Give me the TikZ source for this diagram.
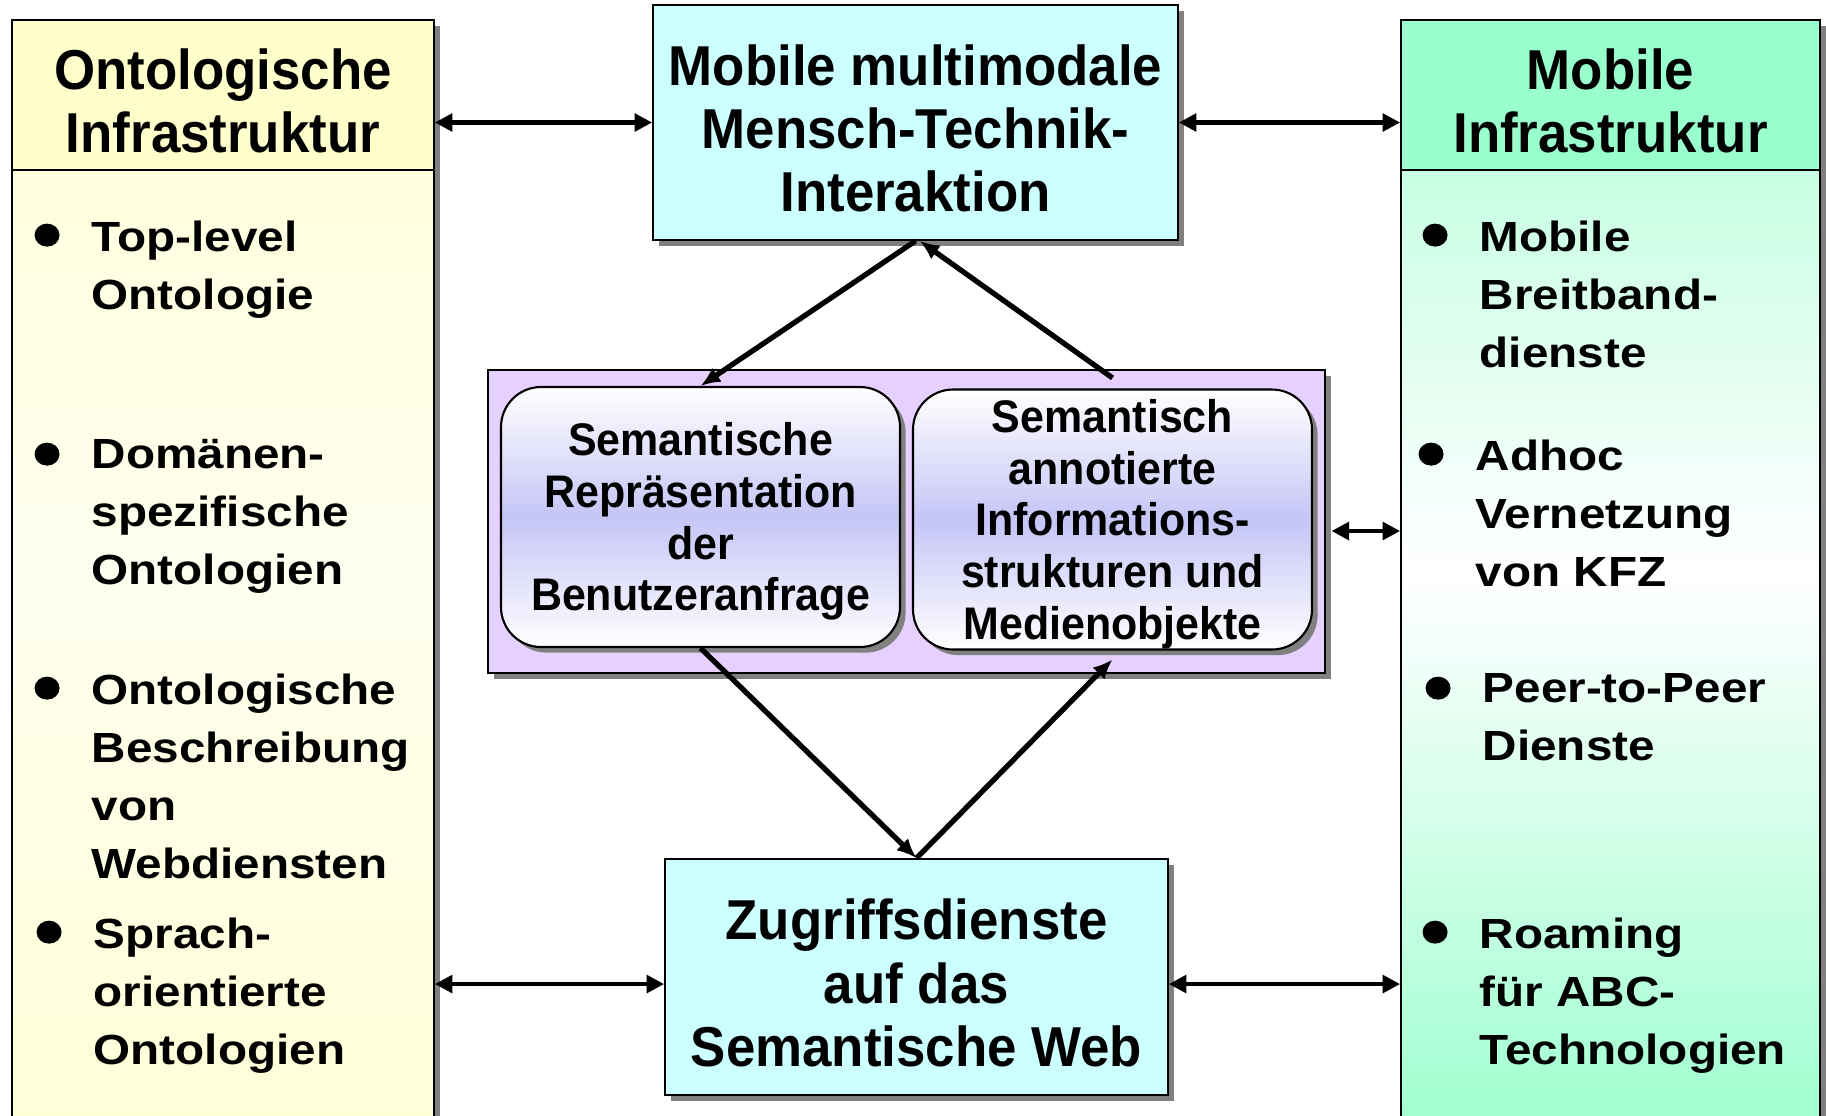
\documentclass[tikz,border=0pt]{standalone}
\usepackage{fontspec}
\setmainfont{Liberation Sans}
\newfontfamily\headfont{Liberation Sans}[FakeStretch=0.94]
\newfontfamily\listfont{Liberation Sans}[FakeStretch=1.13]
\usetikzlibrary{arrows.meta,shadows}

\definecolor{boxcyan}{HTML}{CCFFFF}
\definecolor{ontohead}{HTML}{FFFFCC}
\definecolor{ontobody}{HTML}{FFFFD8}
\definecolor{mobhead}{HTML}{99FFCC}
\definecolor{mobtop}{HTML}{B3FFD9}
\definecolor{mobbottom}{HTML}{A0FFD0}
\definecolor{semlila}{HTML}{E6D0FF}
\definecolor{semblue}{HTML}{C5C5F7}

% taller first line pushes the text block a bit down
\newcommand{\headstrut}{\rule{0pt}{15pt}}
\newcommand{\semstrut}{\rule{0pt}{12pt}}

\begin{document}
\begin{tikzpicture}[x=0.1mm, y=-0.1mm,
    shadowed/.style={drop shadow={opacity=1, fill=gray, shadow xshift=1.6pt, shadow yshift=-1.6pt}},
    headbox/.style={rectangle, draw, line width=0.5pt, align=center, inner sep=0pt, font=\headfont\bfseries\fontsize{16}{18}\selectfont},
    panel/.style={rectangle, draw, line width=0.5pt, inner sep=0pt, shadowed},
    semround/.style={rectangle, draw, line width=0.6pt, rounded corners=4mm, align=center, inner sep=0pt,
        minimum width=39.9mm, minimum height=26mm, shadowed, top color=white, bottom color=white, middle color=semblue,
        font=\headfont\bfseries\fontsize{13}{14.7}\selectfont},
    listitem/.style={anchor=north west, align=left, inner sep=0pt, font=\listfont\bfseries\fontsize{12}{16.5}\selectfont},
    arr/.style={-{Latex[length=5.6pt,width=4.8pt]}, line width=1.5pt},
    dbl/.style={{Triangle[length=5pt,width=5pt]}-{Triangle[length=5pt,width=5pt]}, line width=1.2pt}
]
\useasboundingbox (0,0) rectangle (1826,1115);

% Left column: ontological infrastructure
\node[panel, minimum width=42.2mm, minimum height=110.5mm, top color=ontobody, bottom color=ontobody, middle color=white!60!ontobody] (ontopanel) at (223,572.5) {};
\node[headbox, fill=ontohead, minimum width=42.2mm, minimum height=15mm] (ontohead) at (223,95) {\headstrut Ontologische\\Infrastruktur};
\node[listitem] (o1) at (91,220) {Top-level\\Ontologie};
\node[listitem] (o2) at (91,439) {Domänen-\\spezifische\\Ontologien};
\node[listitem] (o3) at (91,673) {Ontologische\\Beschreibung\\von\\Webdiensten};
\node[listitem] (o4) at (93,917) {Sprach-\\orientierte\\Ontologien};

% Right column: mobile infrastructure
\node[panel, minimum width=41.9mm, minimum height=110.5mm, top color=mobtop, bottom color=mobbottom, middle color=white] (mobpanel) at (1610.5,572.5) {};
\node[headbox, fill=mobhead, minimum width=41.9mm, minimum height=15mm] (mobhead) at (1610.5,95) {\headstrut Mobile\\Infrastruktur};
\node[listitem] (m1) at (1479,220) {Mobile\\Breitband-\\dienste};
\node[listitem] (m2) at (1475,439) {Adhoc\\Vernetzung\\von KFZ};
\node[listitem] (m3) at (1482,673) {Peer-to-Peer\\Dienste};
\node[listitem] (m4) at (1479,917) {Roaming\\für ABC-\\Technologien};

% bullets in front of every item
\foreach \n in {o1,o2,o3,o4,m1,m2,m3,m4}
  \fill ([xshift=-12.5pt,yshift=-4.3pt]\n.north west) ellipse (1.25mm and 1.15mm);

% Middle column
\node[headbox, fill=boxcyan, shadowed, minimum width=52.5mm, minimum height=23.5mm] (mmi) at (915.5,122.5) {\headstrut Mobile multimodale\\Mensch-Technik-\\Interaktion};
\node[panel, fill=semlila, minimum width=83.7mm, minimum height=30.3mm] (semantik) at (906.5,521.5) {};
\node[semround] (anfrage) at (700.5,517) {\semstrut Semantische\\Repräsentation\\der\\Benutzeranfrage};
\node[semround] (info) at (1112.5,519.5) {\semstrut Semantisch\\annotierte\\Informations-\\strukturen und\\Medienobjekte};
\node[headbox, fill=boxcyan, shadowed, minimum width=50.3mm, minimum height=23.6mm] (zugriff) at (916.5,977) {\headstrut Zugriffsdienste\\auf das\\Semantische Web};

% Links to the side columns
\draw[dbl] (mmi.west -| ontohead.east) -- (mmi.west);
\draw[dbl] (mmi.east) -- (mmi.east -| mobhead.west);
\draw[dbl] ([yshift=-2pt]zugriff.west -| ontopanel.east) -- ([yshift=-2pt]zugriff.west);
\draw[dbl] ([yshift=-2pt]zugriff.east) -- ([yshift=-2pt]zugriff.east -| mobpanel.west);
\draw[dbl] ([xshift=1.6pt,yshift=-2.7pt]semantik.east) -- ([yshift=-2.7pt]semantik.east -| mobpanel.west);

% Cycle through the semantic layer
\draw[arr] (mmi.south) -- (anfrage.north);
\draw[arr] ([yshift=3pt]info.north) -- ([xshift=1.2pt]mmi.south);
\draw[arr] (anfrage.south) -- (zugriff.north);
\draw[arr] (zugriff.north) -- ([yshift=-2.5pt]info.south);
\end{tikzpicture}
\end{document}
